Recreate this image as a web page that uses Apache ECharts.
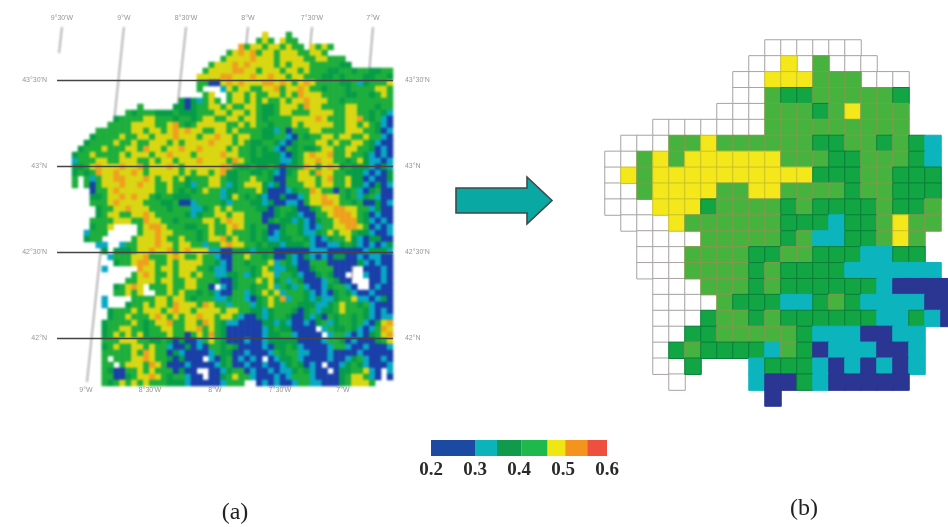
<!DOCTYPE html>
<html><head><meta charset="utf-8">
<style>html,body{margin:0;padding:0;background:#fff}
#r,#c{position:absolute;left:0;top:0;width:948px;height:527px}
#r{filter:blur(1.1px)}#c{filter:blur(0.45px)}</style>
<script src="https://cdn.jsdelivr.net/npm/echarts@6/dist/echarts.min.js"></script></head>
<body><div id="r"></div><div id="c"></div>
<script>
// class value
const classValue = {b:0.25,t:0.32,d:0.38,g:0.43,y:0.48,o:0.53,r:0.58};
const legendBreaks = [0.2,0.3,0.35,0.405,0.465,0.505,0.555,0.6];
const legendColors = ['#1c4aa3','#0cb4ba','#0f9a4c','#1eb84c','#f0e612','#f5931f','#ee5040'];
const mapColors    = ['#1a3fa8','#08a8c4','#069c48','#1eae3c','#d9d612','#eea01c','#e85a30'];
const cellColors   = ['#2b3692','#0cb5bd','#11a544','#47b33f','#f4e81a','#f5931f','#ee5040'];
const legendTicks = [0.2,0.3,0.4,0.5,0.6];

// (b) aggregated cells: w = empty outlined cell, . = nothing
const cellRows = [
"..........wwwwww......",
".........wwywgwww.....",
"........wwyyygggwww...",
"........wwgddgggggd...",
".......wwwgggdgyggg...",
"...wwwwwwwggggggggg...",
".wwwggyggggggddggdgdt.",
"wwgygyyyyyygggddgggdt.",
"wygyyyyyyyyyydddggddd.",
"wwgyyyyggyyggggdggddd.",
"wwwyyydggggdgddddgddg.",
".wwwyggggggdddtddgygg.",
"..wwwwgggggdgttddgyg..",
"..wwwggggddggdddttdd..",
"..wwwggggdgddddtttttt.",
"...wwwgggdgddddddtbbbb",
"...wwwwgdddttdgdttttbb",
"...wwwdggdgddddddttdtb",
"...wwddgggggdtttbbtt..",
"...wdgddddtgdbtttbbt..",
"...wwd...tdddtbtbtbt..",
"....w....tbbdtbbbbb...",
"..........b..........."
];

// (a) raster classes, 6 groups of 9 columns, top to bottom
const mapRows = [
"......... ......... ......... .....y... g........ .........",
"......... ......... ......... ....gyg.y gg....... .........",
"......... ......... ......... .ogyygyyg ygg.ygyg. .........",
"......... ......... ........g yoyogyygy yyggyyg.. .........",
"......... ......... .......gy yyyoyyygy yyyggyygg g........",
"......... ......... .....gyyy oyoyyyygy gyyyggggg dd.......",
"......... ......... ....gyyyy ooyygyyyg yygygggdd ggdggddgg",
"......... ......... ...yyyyoo yyyoyyoyy gyygggddg dgggddggd",
"......... ......... ...ggbbyo yoyyyooyo ygyoygggg ddgtdgggy",
"......... ......... ...g...ty gyyggyyog yyoyggdgg gdggggyyg",
"......... ......... ....gy..g yygyggyyg ygoyyyggg gddggdgyg",
"......... ......... dbdtgyg.g yygygyggy gyyoyyygg dgggggggg",
"......... ..g.....d dbdggyygy ggyygddgy yygoyyggg gyygggdgg",
"......... gdgggdddg dddgggyyg yygygddgy ygggyyyyg gyyggdgdt",
".......dg gggyygggd ggdgyyggy ygyygdggg gyyyyoygg gyyogdgtb",
"......ggg gyyyyggyo gdgyyyyyg gygyggdgg gygyyyyyg gyygygdtb",
"....ggggg gyygyygyo yoyyggyyg yggggddtg bgggyyggg gyyyggdbt",
"...dggggy ggyygyyyo yyygyyoyy gyyggddgg tbgdggyyg yyggyggtb",
"..dggggyg gyggyyygy gyyyyoyyy gygddggdt bdgggyygy ggyygdtbb",
".dgggyggg yygoyygyy oyyoyyyyg yggdgdgtb gdgddgyyg gyyggdbtb",
"dggyggggy gyyygyyoy yygyyyyoy yggdgdddt bdgyoyyog gyggdtbtb",
"tgggyyggy yyggygyyg yyyoyyyyg oygdddddt tdgyyoyyg gdgydttbt",
"ddgyoyyyo yyogyyyoy gyyyyyyoo gddgddgdb ddgoygyoy dgdddtbdt",
"dgdgoyyoy yoygyyyyy gygyygyod dggddgdtb dgyygoyyg gdddtbtbd",
"g.gtgyyoo yyyoygyyg ydgggyygd dggyggdbb ggyyygyog gyddbtbbd",
"g.gbgyyyo yyoyyggyg gdtggyygt dgyyydtdb gggyygyyg gyddtbdbt",
"...bggyoy yyyyyggyg dgdgyggtd dgggydbbb tdggoyggb gdgtbdgbb",
"...ddgyyo yoyygdggd ddgggggtd ygdgdtbbd bbtgyyoyy gdgtdgtbb",
"...gggyoy yyygggddg bbtggggdt gggddtdbb ttbgyyooy ggdgbbdbt",
"....dggyy oyyygggdg ggttdgygy ggggddbdg gdbbdgyyo oyyggtdbb",
"....dgyyg gyyoygggg gdtdggyyg yygggbbdg ddtbbggyo ooygdbtbb",
"...ggggyy yggoyyggd ggggyygyo yygggbdgd dtdtbdggy ooogdtbtb",
"...dggy.. ..gyooygg gddggyggy oygdggbbd ggdtbtggy yooygbtbt",
"..tggg... ..gyyoyyg gggdgyggy gggdgdbtd ggdttdgyg yygddtbbt",
"..dgg.... .gyyyoygg yggdgyyog yggdgdttd dggdtbtdg gydtbddbb",
"....tt..t ggyyyoyyg yyggtggyo yyggdgddt dddgtbbtt dgdtbtbtd",
".....d.dd dgyyoyyog yoyyyttbb dddtdddbb bbbbtttbb bbbbtdddt",
"......tgg gyyogggyo yggyggtbb ggyggdgbb dtbdtbtbd dbbtbttbb",
".......dg gyooyggyg yyyyggdtb ggdgggytg dtbbgggbb bbbdtbtbb",
".....t... ..oyygyyg yyyggdttb gggdgygtt ddbbdgggb bb..bbbtb",
"......... .gyoyggyg yygyggttd dgtdgyytg gdtbbdgdb b...tbbtb",
"......... ggyyygyyg gyygggdbb dgggygydg tgdbbbtgd bb...bbtb",
".......dg yoy.gggyg gyyggb.tb dggdggytg dtgtbbtdg gtb..btbb",
".......gg ygy..ggyg yggdgdtbb ggtdgygyt gggdtbtbd gdtbbtbbb",
".....t... .ggggyygy ygdgggttd ggtbdgygo tggdtdttd ggyttbtdb",
".....t... dggygyygo yyygoyggt gggtdgygg ggdddttdg yggdgtbbb",
"......dgg gygyyygyo yygyyyygy yggddtdgg gdbdgtddg ygggdtbtb",
"......dgg ygggyoygy gyyoyygyy gtbbdtdgg dbbdtdbgd ggdgdtbtt",
".....dggg gygdgyyog gyygoygdt tbbbbddtd tbbtbdgtd ggdgtbdyo",
".....dggy yggdggyyg gyyogygdb bbbbbtdgd dbbbb.tgd dgdtbtgoy",
".....dgyg ygydgggyg gbgygogdb bbbbbtddg gtbbbb.tg gtbtbdgyo",
".....gggy yyggddgdb dbbtgygdb bbtbbtddd ddbbbbtgg dbtbbbdgy",
".....dgyg gyygyggtb bdbtbggdg dbbbbtbdd gdtbbbbtg gtbbtbbbt",
".....gggg gygoyggbd tbbbbtgdd bbtbbbtgd ggttbbbtb bbbtbbbbb",
".....g.gg gyyoyggdb dbbb.tbdg btbtb.btd dgtbbbbtb btdgtbbtb",
".....gg.g yyygoygbb btbbbbtdg bbtbbtbbt dgdbtb.bb tdgdtbbbt",
".....gdbb ggygygggb dbb..bbtd ggbtbbtbt tdgdtbb.b ddggytb.t",
".....ggbb dgyyoygdg gtbb.bbdg yggtbbbtb tgggtbbbb dgyygtb.b",
".....gdgy gygygggdd dtbbbbbtg gg..btbtb btggttbbb dgyyyg..."
];

// graticule: [easting degrees, latitude]
const parallelLats = [43.5,43,42.5,42];
const parallelLabels = ["43°30'N","43°N","42°30'N","42°N"];
const parallelFrom = -9.551, parallelTo = -6.906;
const meridianLabels = ["9°30'W","9°W","8°30'W","8°W","7°30'W","7°W"];
const meridianTop = [-9.512,-9.024,-8.535,-8.047,-7.543,-7.063];
const meridianBottom = [-9.535,-9.315,-8.835,-8.331,-7.819,-7.299];
const meridianBottomLat = [43.657,41.744,41.744,41.744,41.744,41.744];
const meridianTopLat = 43.808;
const bottomLabelEast = [-9.323,-8.819,-8.307,-7.795,-7.299];
const bottomLabels = ["9°W","8°30'W","8°W","7°30'W","7°W"];

const pieces = cols => cols.map((color,i)=>({gte:legendBreaks[i],lt:legendBreaks[i+1],color}));
const cellBorder = {d:'#0a7f38',g:'#7f9a4e',y:'#c9c22a',t:'#0cb5bd',b:'#2b3692'};

const cellData=[], emptyData=[];
cellRows.forEach((r,y)=>[...r].forEach((ch,x)=>{
  if(ch==='w') emptyData.push([x,y,0]);
  else if(classValue[ch]) cellData.push({value:[x,y,classValue[ch]],itemStyle:{borderColor:cellBorder[ch],borderWidth:1}});
}));
const mapData=[];
const mapGrid=mapRows.map(r=>r.replace(/ /g,''));
mapGrid.forEach((r,y)=>[...r].forEach((ch,x)=>{ if(classValue[ch]) mapData.push([x,y,classValue[ch]]); }));
const idx=n=>Array.from({length:n},(_,i)=>i);

// overlay axes shared by both layers
const gratX={type:'value',min:-10,max:-2.535,show:false};
const gratY={type:'value',min:40.901,max:43.965,show:false};
const gratGrid={left:0,top:0,width:948,height:527,outerBoundsMode:'none'};

// blurred bottom layer: raster image with its meridians
const rasterOption={
  animation:false,backgroundColor:'#fff',
  grid:[{left:72,top:32,width:321,height:354,outerBoundsMode:'none'},gratGrid],
  xAxis:[{type:'category',gridIndex:0,data:idx(54),show:false},{...gratX,gridIndex:1}],
  yAxis:[{type:'category',gridIndex:0,data:idx(mapGrid.length),inverse:true,show:false},{...gratY,gridIndex:1}],
  visualMap:[{type:'piecewise',show:false,seriesIndex:1,dimension:2,pieces:pieces(mapColors)}],
  series:[
    {name:'meridians',type:'lines',coordinateSystem:'cartesian2d',xAxisIndex:1,yAxisIndex:1,z:1,silent:true,
     lineStyle:{color:'#8f8a8a',width:1.3,opacity:1},
     data:meridianTop.map((e,i)=>({coords:[[e,meridianTopLat],[meridianBottom[i],meridianBottomLat[i]]]}))},
    {name:'raster',type:'heatmap',xAxisIndex:0,yAxisIndex:0,z:2,silent:true,data:mapData,itemStyle:{borderWidth:0}}
  ]
};

const lblStyle={show:true,color:'#7a7a7a',fontSize:7,fontFamily:'Liberation Sans'};
const labelPts=(pts,position)=>({type:'scatter',xAxisIndex:2,yAxisIndex:2,symbolSize:0,z:5,silent:true,
  data:pts.map(p=>({name:p[2],value:[p[0],p[1]]})),
  label:{...lblStyle,position,distance:0,formatter:'{b}'}});

const option={
  animation:false,backgroundColor:'transparent',
  grid:[
    {left:605,top:40,width:352,height:366,outerBoundsMode:'none'},
    {left:431,top:440,width:176,height:16,outerBoundsMode:'none'},
    gratGrid
  ],
  xAxis:[
    {type:'category',gridIndex:0,data:idx(22),show:false},
    {type:'value',gridIndex:1,min:0.2,max:0.6,interval:0.1,splitLine:{show:false},axisLine:{show:false},axisTick:{show:false},
     axisLabel:{color:'#2a2a2a',fontFamily:'Liberation Serif',fontWeight:'bold',fontSize:19,margin:5,showMinLabel:true,showMaxLabel:true,
       formatter:v=>legendTicks.find(t=>Math.abs(t-v)<1e-6).toFixed(1)}},
    {...gratX,gridIndex:2}
  ],
  yAxis:[
    {type:'category',gridIndex:0,data:idx(23),inverse:true,show:false},
    {type:'value',gridIndex:1,min:0,max:1,show:false},
    {...gratY,gridIndex:2}
  ],
  visualMap:[{type:'piecewise',show:false,seriesIndex:1,dimension:2,pieces:pieces(cellColors)}],
  series:[
    {name:'no data',type:'heatmap',xAxisIndex:0,yAxisIndex:0,z:2,silent:true,data:emptyData,
     itemStyle:{color:'#fff',borderColor:'#a9a3a3',borderWidth:1}},
    {name:'cells',type:'heatmap',xAxisIndex:0,yAxisIndex:0,z:3,silent:true,data:cellData},
    {name:'parallels',type:'lines',coordinateSystem:'cartesian2d',xAxisIndex:2,yAxisIndex:2,z:4,silent:true,
     lineStyle:{color:'#444',width:1.3,opacity:1},
     data:parallelLats.map(l=>({coords:[[parallelFrom,l],[parallelTo,l]]}))},
    {name:'scale',type:'custom',xAxisIndex:1,yAxisIndex:1,z:3,silent:true,
     data:legendColors.map((c,i)=>[legendBreaks[i],legendBreaks[i+1],i]),
     encode:{x:[0,1]},
     renderItem:(p,api)=>{
       const a=api.coord([api.value(0),1]),b=api.coord([api.value(1),0]);
       return {type:'rect',shape:{x:a[0],y:a[1],width:b[0]-a[0],height:b[1]-a[1]},
         style:{fill:legendColors[api.value(2)]}};
     }},
    labelPts(meridianLabels.map((t,i)=>[meridianTop[i],43.86,t]),'inside'),
    labelPts(bottomLabels.map((t,i)=>[bottomLabelEast[i],41.698,t]),'inside'),
    labelPts(parallelLats.map((l,i)=>[-9.63,l,parallelLabels[i]]),'left'),
    labelPts(parallelLats.map((l,i)=>[-6.811,l,parallelLabels[i]]),'right')
  ],
  graphic:[
    {type:'polygon',z:10,shape:{points:[[456,188],[527,188],[527,177],[552,200.5],[527,224],[527,213],[456,213]]},
     style:{fill:'#0aa8a2',stroke:'#3f4a4a',lineWidth:1.6}},
    {type:'text',z:10,x:235,y:513,style:{text:'(a)',fontFamily:'Liberation Serif',fontSize:24,fill:'#222',align:'center',verticalAlign:'middle'}},
    {type:'text',z:10,x:804,y:509,style:{text:'(b)',fontFamily:'Liberation Serif',fontSize:24,fill:'#222',align:'center',verticalAlign:'middle'}}
  ]
};
echarts.init(document.getElementById('r')).setOption(rasterOption);
echarts.init(document.getElementById('c')).setOption(option);
</script></body></html>
